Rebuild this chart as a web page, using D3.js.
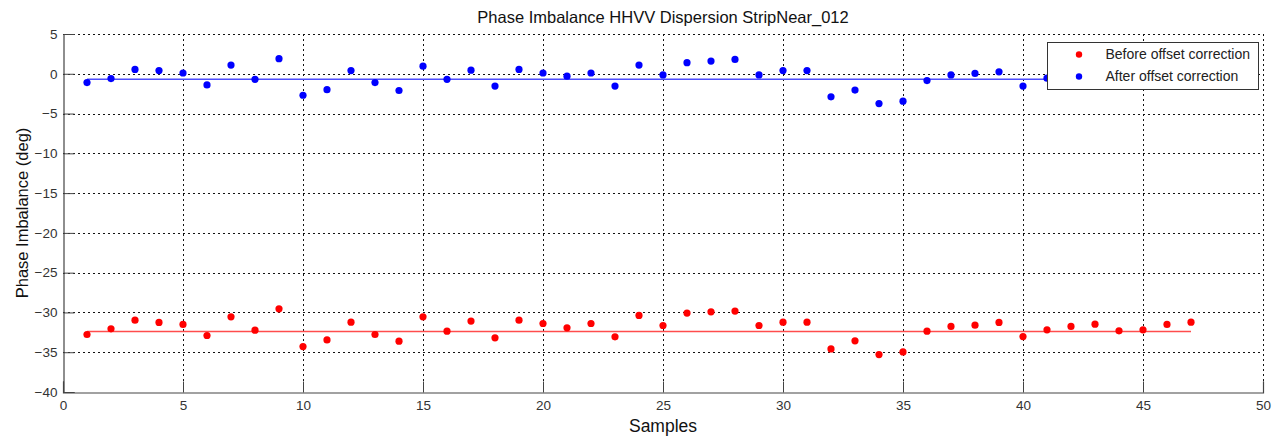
<!DOCTYPE html>
<html>
<head>
<meta charset="utf-8">
<script src="https://cdn.jsdelivr.net/npm/d3@7"></script>
<style>
  body { margin: 0; background: #fff; }
  svg { font-family: "Liberation Sans", Arial, sans-serif; }
</style>
</head>
<body>
<div class="graph"></div>
<script>
// samples 1..47
var samples = d3.range(1, 48);

// phase imbalance before correction (deg)
var before = [
  -32.77, -32.06, -30.97, -31.26, -31.51, -32.90, -30.55, -32.23, -29.54, -34.29,
  -33.45, -31.22, -32.77, -33.61, -30.55, -32.35, -31.09, -33.19, -30.97, -31.39,
  -31.93, -31.39, -33.07, -30.38, -31.64, -30.08, -29.92, -29.83, -31.64, -31.22,
  -31.22, -34.58, -33.57, -35.29, -34.96, -32.35, -31.76, -31.60, -31.26, -33.03,
  -32.18, -31.76, -31.47, -32.31, -32.18, -31.51, -31.22
];

// after offset correction (deg)
var after = [
  -1.10, -0.60, 0.55, 0.40, 0.10, -1.40, 1.10, -0.70, 1.90, -2.70,
  -2.00, 0.40, -1.10, -2.10, 0.95, -0.70, 0.45, -1.55, 0.55, 0.10,
  -0.30, 0.10, -1.55, 1.10, -0.15, 1.40, 1.60, 1.80, -0.15, 0.40,
  0.40, -2.90, -2.05, -3.75, -3.45, -0.85, -0.15, 0.05, 0.25, -1.55,
  -0.55, -0.06, 0.23, -0.61, -0.48, 0.19, 0.48
];

// reference levels drawn as horizontal lines (before, after)
var levels = [-32.4, -0.7];

var xTicks = [0, 5, 10, 15, 20, 25, 30, 35, 40, 45, 50];
var yTicks = [5, 0, -5, -10, -15, -20, -25, -30, -35, -40];

var W = 1274, H = 438;
var m = { left: 63, right: 11, top: 34, bottom: 46 };

var svg = d3.select('.graph').append('svg')
  .attr('width', W).attr('height', H);

var x = d3.scaleLinear().domain([0, 50]).range([m.left, W - m.right]);
var y = d3.scaleLinear().domain([-40, 5]).range([H - m.bottom, m.top]);

// dotted grid
var grid = svg.append('g').attr('stroke', '#111').attr('stroke-dasharray', '2,3').attr('stroke-width', 1);
grid.selectAll('line.gx').data(xTicks.slice(1)).enter().append('line')
  .attr('x1', function (d) { return Math.round(x(d)) + 0.5; })
  .attr('x2', function (d) { return Math.round(x(d)) + 0.5; })
  .attr('y1', y(5)).attr('y2', y(-40));
grid.selectAll('line.gy').data(yTicks.slice(0, -1)).enter().append('line')
  .attr('y1', function (d) { return Math.round(y(d)) + 0.5; })
  .attr('y2', function (d) { return Math.round(y(d)) + 0.5; })
  .attr('x1', x(0)).attr('x2', x(50));

// axes, ticks pointing inward
var xAxis = svg.append('g')
  .attr('transform', 'translate(0,' + (Math.round(y(-40)) + 0.5) + ')')
  .call(d3.axisTop(x).tickValues(xTicks).tickSize(11).tickFormat(d3.format('d')));
xAxis.selectAll('text').attr('y', 8).attr('dy', '0.71em');

var yAxis = svg.append('g')
  .attr('transform', 'translate(' + (Math.round(x(0)) + 0.5) + ',0)')
  .call(d3.axisRight(y).tickValues(yTicks).tickSize(11).tickFormat(d3.format('d')));
yAxis.selectAll('text').attr('x', -6).attr('text-anchor', 'end');

[xAxis, yAxis].forEach(function (a) {
  a.select('.domain').attr('stroke', '#444').attr('stroke-width', 1.2);
  a.selectAll('.tick line').attr('stroke', '#444');
  a.selectAll('text').attr('fill', '#333').style('font-size', '13.5px')
    .style('font-family', '"Liberation Sans", Arial, sans-serif');
});

// level lines
var levelColors = ['#ff4d4d', '#4d4dff'];
svg.append('g').selectAll('line').data(levels).enter().append('line')
  .attr('x1', x(samples[0])).attr('x2', x(samples[samples.length - 1]))
  .attr('y1', function (d) { return y(d); }).attr('y2', function (d) { return y(d); })
  .attr('stroke', function (d, i) { return levelColors[i]; }).attr('stroke-width', 1.5);

// points
svg.append('g').selectAll('circle').data(samples).enter().append('circle')
  .attr('cx', function (d) { return x(d); })
  .attr('cy', function (d, i) { return y(before[i]); })
  .attr('r', 3.6).attr('fill', '#ff0000');
svg.append('g').selectAll('circle').data(samples).enter().append('circle')
  .attr('cx', function (d) { return x(d); })
  .attr('cy', function (d, i) { return y(after[i]); })
  .attr('r', 3.6).attr('fill', '#0000ff');

// legend
var legend = svg.append('g').attr('transform', 'translate(1047.5,42.5)');
legend.append('rect').attr('width', 211).attr('height', 47)
  .attr('fill', '#fff').attr('stroke', '#333').attr('stroke-width', 1);
var entries = [
  { label: 'Before offset correction', color: '#ff0000' },
  { label: 'After offset correction', color: '#0000ff' }
];
var row = legend.selectAll('g.row').data(entries).enter().append('g')
  .attr('transform', function (d, i) { return 'translate(0,' + (12 + 22 * i) + ')'; });
row.append('circle').attr('cx', 31.5).attr('cy', 0).attr('r', 3.2).attr('fill', function (d) { return d.color; });
row.append('text').attr('x', 58).attr('dy', '0.35em')
  .style('font-size', '14px').attr('fill', '#222')
  .text(function (d) { return d.label; });

// labels
svg.append('text').attr('x', (x(0) + x(50)) / 2).attr('y', 23)
  .attr('text-anchor', 'middle').style('font-size', '16.5px').attr('fill', '#111')
  .text('Phase Imbalance HHVV Dispersion StripNear_012');
svg.append('text').attr('x', (x(0) + x(50)) / 2).attr('y', 432)
  .attr('text-anchor', 'middle').style('font-size', '17.5px').attr('fill', '#111')
  .text('Samples');
svg.append('text')
  .attr('transform', 'translate(28,' + ((y(5) + y(-40)) / 2) + ') rotate(-90)')
  .attr('text-anchor', 'middle').style('font-size', '16.5px').attr('fill', '#111')
  .text('Phase Imbalance (deg)');
</script>
</body>
</html>
